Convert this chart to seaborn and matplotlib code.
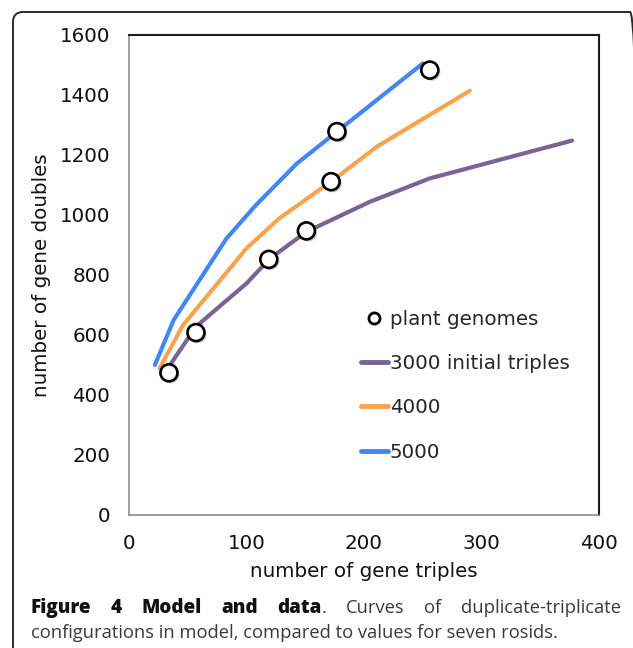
import numpy as np
import pandas as pd
import matplotlib
matplotlib.use("Agg")
import matplotlib.pyplot as plt
import seaborn as sns
from matplotlib.lines import Line2D
from matplotlib.patches import FancyBboxPatch
from matplotlib.transforms import IdentityTransform
import matplotlib.patheffects as pe

# ---- data ----
series_names = ["3000 initial triples", "4000", "5000"]
triples_3000 = [32, 57, 100, 120, 151, 205, 256, 377]
doubles_3000 = [483, 628, 772, 855, 944, 1044, 1122, 1248]
triples_4000 = [26, 46, 100, 128, 174, 211, 290]
doubles_4000 = [489, 633, 889, 989, 1117, 1228, 1414]
triples_5000 = [22, 38, 83, 108, 143, 177, 250]
doubles_5000 = [500, 650, 922, 1033, 1172, 1278, 1505]
genome_triples = [34, 57, 119, 151, 172, 177, 256]
genome_doubles = [474, 608, 852, 947, 1111, 1278, 1483]
x_ticks = [0, 100, 200, 300, 400]
y_ticks = [0, 200, 400, 600, 800, 1000, 1200, 1400, 1600]

colors = {"3000 initial triples": "#7b6396", "4000": "#f9a34f", "5000": "#4387f5"}

frames = []
for name, xs, ys in zip(series_names,
                        [triples_3000, triples_4000, triples_5000],
                        [doubles_3000, doubles_4000, doubles_5000]):
    frames.append(pd.DataFrame({"triples": xs, "doubles": ys, "series": name}))
lines_df = pd.concat(frames, ignore_index=True)
genomes_df = pd.DataFrame({"triples": genome_triples, "doubles": genome_doubles})

sns.set_theme(style="white")
plt.rcParams["font.family"] = ["DejaVu Sans"]

W, H = 633, 648
fig = plt.figure(figsize=(W / 100, H / 100), dpi=100)
ax = fig.add_axes([129 / W, 1 - 515 / H, 470 / W, 480 / H])

sns.lineplot(data=lines_df, x="triples", y="doubles", hue="series",
             palette=colors, sort=False, estimator=None, units="series",
             linewidth=3.0, legend=False, ax=ax, solid_capstyle="round")

sns.scatterplot(data=genomes_df, x="triples", y="doubles", ax=ax,
                s=150, color="white", edgecolor="black", linewidth=1.9,
                zorder=5, legend=False,
                path_effects=[pe.SimplePatchShadow(offset=(1.5, -1.5), shadow_rgbFace="#999999", alpha=0.5),
                              pe.Normal()])

FS = 14.3
ax.set_xlim(0, 400)
ax.set_ylim(0, 1600)
ax.set_xticks(x_ticks)
ax.set_yticks(y_ticks)
ax.tick_params(axis="both", which="major", direction="out", length=4.5, width=1,
               color="#8c8c8c", labelsize=FS, labelcolor="#111111")
ax.tick_params(axis="x", pad=9)
ax.tick_params(axis="y", pad=9)
ax.set_xlabel("number of gene triples", fontsize=FS, color="#111111", labelpad=6.5)
ax.set_ylabel("number of gene doubles", fontsize=FS, color="#111111", labelpad=6)

for side in ["left", "bottom"]:
    ax.spines[side].set_color("#8c8c8c")
    ax.spines[side].set_linewidth(1.2)
for side in ["top", "right"]:
    ax.spines[side].set_color("#1e1e1e")
    ax.spines[side].set_linewidth(1.5)
    ax.spines[side].set_visible(True)

handles = [Line2D([], [], marker="o", linestyle="none", markersize=8,
                  markerfacecolor="white", markeredgecolor="black", markeredgewidth=2)]
for name in series_names:
    handles.append(Line2D([], [], color=colors[name], linewidth=3.5))
labels = ["plant genomes"] + series_names
ax.legend(handles, labels, loc="upper left", bbox_to_anchor=(361 / W, 1 - 310 / H),
          bbox_transform=fig.transFigure, frameon=False, fontsize=FS,
          handlelength=1.35, handletextpad=0.1, labelspacing=1.27, borderpad=0,
          borderaxespad=0)

# rounded frame around the figure (display pixels, origin bottom-left)
frame = FancyBboxPatch((13, -30), 640 - 13, H - 12 + 30,
                       boxstyle="round,pad=0,rounding_size=10",
                       transform=IdentityTransform(), fill=False,
                       edgecolor="#2a2a2a", linewidth=1.4, clip_on=False)
fig.patches.append(frame)

# caption, justified line 1
cap_font = "Open Sans"
cap_size = 13.2
bold_size = 13.6
renderer = fig.canvas.get_renderer()
words = [("Figure", "bold"), ("4", "bold"), ("Model", "bold"), ("and", "bold"),
         ("data", "bold"), ("Curves", "normal"), ("of", "normal"),
         ("duplicate-triplicate", "normal")]
left_px, right_px = 31, 621
y1 = 1 - 613 / H
texts = []
for w, wt in words:
    if wt == "bold":
        t = fig.text(0, y1, w, fontsize=bold_size, fontweight=800, family=cap_font,
                     color="#111111", va="baseline")
    else:
        t = fig.text(0, y1, w, fontsize=cap_size, family=cap_font,
                     color="#3a3a3a", va="baseline")
    texts.append(t)
dot = fig.text(0, y1, ".", fontsize=cap_size, family=cap_font, color="#3a3a3a", va="baseline")
widths = [t.get_window_extent(renderer).width for t in texts]
dot_w = dot.get_window_extent(renderer).width
total = sum(widths) + dot_w
gap = (right_px - left_px - total) / (len(words) - 1)
x = left_px
for i, t in enumerate(texts):
    t.set_x(x / W)
    x += widths[i]
    if i == 4:
        dot.set_x(x / W)
        x += dot_w
    x += gap

fig.text(31 / W, 1 - 638 / H,
         "configurations in model, compared to values for seven rosids.",
         fontsize=cap_size, family=cap_font, color="#3a3a3a", va="baseline")

fig.savefig("out.png", dpi=100)
